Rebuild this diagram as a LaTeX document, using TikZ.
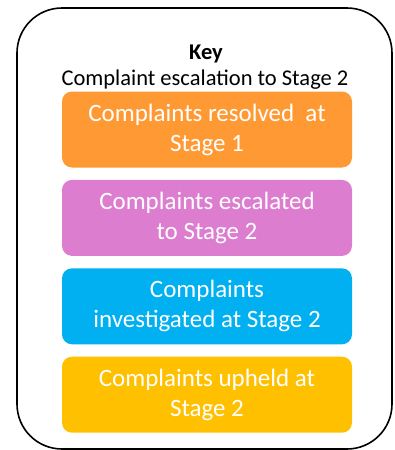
\documentclass[tikz,border=0pt]{standalone}
\usepackage{fontspec}
\setmainfont{Carlito}
\usetikzlibrary{positioning}

\definecolor{stageorange}{HTML}{FF9933}
\definecolor{stagepink}{HTML}{DC7DCF}
\definecolor{stageblue}{HTML}{00B0F0}
\definecolor{stagegold}{HTML}{FFC000}

\begin{document}
\begin{tikzpicture}[x=1pt,y=-1pt,node distance=12pt,
                    stage box/.style={rounded corners=10pt,minimum width=290pt,minimum height=76pt,align=center,text=white,font=\fontsize{25}{30}\selectfont,inner sep=0pt},
                    heading/.style={font=\fontsize{22.5}{26}\selectfont,anchor=base,inner sep=0pt}]
                        \useasboundingbox (0,0) rectangle (394,450);
                        \node[draw,line width=1.6pt,rounded corners=45pt,minimum width=375pt,minimum height=441pt] (frame) at (204.5,228.5) {};

                        \node[heading] (key) at (206,59) {\textbf{Key}};
                        \node[heading] (title) at (205,85) {Complaint escalation to Stage 2};

                        \node[stage box] (1) [fill=stageorange] at (207,129.5) {Complaints resolved\ \ at\\Stage 1};
                        \node[stage box] (2) [fill=stagepink,below=of 1] {Complaints escalated\\to Stage 2};
                        \node[stage box] (3) [fill=stageblue,below=of 2] {Complaints\\investigated at Stage 2};
                        \node[stage box] (4) [fill=stagegold,below=of 3] {Complaints upheld at\\Stage 2};

                    \end{tikzpicture}
\end{document}
